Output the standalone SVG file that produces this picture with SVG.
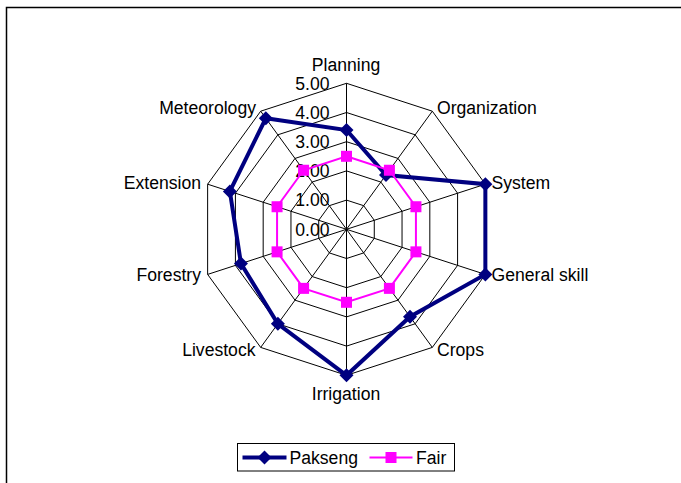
<svg xmlns="http://www.w3.org/2000/svg" width="681" height="483" viewBox="0 0 681 483">
  <style>
    text { font-family: "Liberation Sans", Arial, sans-serif; font-size: 17.6px; fill: #000; }
    .grid { fill: none; stroke: #000; stroke-width: 1; }
    .pak { fill: none; stroke: #000080; stroke-width: 4; stroke-linejoin: miter; }
    .fair { fill: none; stroke: #FF00FF; stroke-width: 2; }
    .tick { text-anchor: end; }
  </style>
  <defs>
    <marker id="diamond" markerUnits="userSpaceOnUse" markerWidth="16" markerHeight="16" refX="8" refY="8" overflow="visible">
      <polygon points="8,1 15,8 8,15 1,8" fill="#000080"/>
    </marker>
    <marker id="square" markerUnits="userSpaceOnUse" markerWidth="12" markerHeight="12" refX="6" refY="6" overflow="visible">
      <rect x="0.5" y="0.5" width="11" height="11" fill="#FF00FF"/>
    </marker>
  </defs>

  <rect width="681" height="483" fill="#fff"/>
  <!-- chart frame (left and top edges) -->
  <path d="M6.5,483 V7.5 H681" fill="none" stroke="#000" stroke-width="1.5"/>

  <!-- radar grid -->
  <g id="grid" transform="translate(346.5 229.3)">
    <polygon class="grid" points="0,-146 85.82,-118.11 138.86,-45.11 138.86,45.11 85.82,118.11 0,146 -85.82,118.11 -138.86,45.11 -138.86,-45.11 -85.82,-118.11"/>
    <polygon class="grid" points="0,-116.8 68.65,-94.49 111.09,-36.09 111.09,36.09 68.65,94.49 0,116.8 -68.65,94.49 -111.09,36.09 -111.09,-36.09 -68.65,-94.49"/>
    <polygon class="grid" points="0,-87.6 51.49,-70.87 83.32,-27.07 83.32,27.07 51.49,70.87 0,87.6 -51.49,70.87 -83.32,27.07 -83.32,-27.07 -51.49,-70.87"/>
    <polygon class="grid" points="0,-58.4 34.33,-47.25 55.54,-18.05 55.54,18.05 34.33,47.25 0,58.4 -34.33,47.25 -55.54,18.05 -55.54,-18.05 -34.33,-47.25"/>
    <polygon class="grid" points="0,-29.2 17.16,-23.62 27.77,-9.02 27.77,9.02 17.16,23.62 0,29.2 -17.16,23.62 -27.77,9.02 -27.77,-9.02 -17.16,-23.62"/>
    <path class="grid" d="M0,0 L0,-146 M0,0 L85.82,-118.11 M0,0 L138.86,-45.11 M0,0 L138.86,45.11 M0,0 L85.82,118.11 M0,0 L0,146 M0,0 L-85.82,118.11 M0,0 L-138.86,45.11 M0,0 L-138.86,-45.11 M0,0 L-85.82,-118.11"/>
  </g>

  <!-- value axis labels -->
  <g id="axis-ticks">
    <text class="tick" x="329.5" y="89.5">5.00</text>
    <text class="tick" x="329.5" y="118.7">4.00</text>
    <text class="tick" x="329.5" y="147.9">3.00</text>
    <text class="tick" x="329.5" y="177.1">2.00</text>
    <text class="tick" x="329.5" y="206.3">1.00</text>
    <text class="tick" x="329.5" y="235.5">0.00</text>
  </g>

  <!-- data series -->
  <g id="series" transform="translate(346.5 229.3)">
    <polygon id="pakseng" class="pak" marker-start="url(#diamond)" marker-mid="url(#diamond)"
      points="0,-99.28 39.48,-54.33 138.86,-45.11 138.86,45.11 63.51,87.4 0,146 -68.65,94.49 -105.53,34.29 -116.64,-37.9 -80.67,-111.03"/>
    <polygon id="fair" class="fair" marker-start="url(#square)" marker-mid="url(#square)"
      points="0,-73 42.91,-59.06 69.43,-22.56 69.43,22.56 42.91,59.06 0,73 -42.91,59.06 -69.43,22.56 -69.43,-22.56 -42.91,-59.06"/>
  </g>

  <!-- category labels -->
  <g id="labels">
    <text x="346" y="71" text-anchor="middle">Planning</text>
    <text x="437" y="114">Organization</text>
    <text x="491.5" y="189">System</text>
    <text x="491.5" y="281">General skill</text>
    <text x="437" y="356">Crops</text>
    <text x="346" y="399.5" text-anchor="middle">Irrigation</text>
    <text x="255.5" y="356" text-anchor="end">Livestock</text>
    <text x="201" y="281" text-anchor="end">Forestry</text>
    <text x="201" y="189" text-anchor="end">Extension</text>
    <text x="256" y="114" text-anchor="end">Meteorology</text>
  </g>

  <!-- legend -->
  <g id="legend">
    <rect x="237.5" y="443.5" width="217" height="27.5" fill="#fff" stroke="#000" stroke-width="1"/>
    <path d="M242.5,457.5 H286.5" class="pak"/>
    <polygon points="264.5,450.5 271.5,457.5 264.5,464.5 257.5,457.5" fill="#000080"/>
    <text x="289.5" y="464">Pakseng</text>
    <path d="M369.5,457.5 H412.5" class="fair"/>
    <rect x="385.5" y="452" width="11" height="11" fill="#FF00FF"/>
    <text x="416" y="464">Fair</text>
  </g>
</svg>
